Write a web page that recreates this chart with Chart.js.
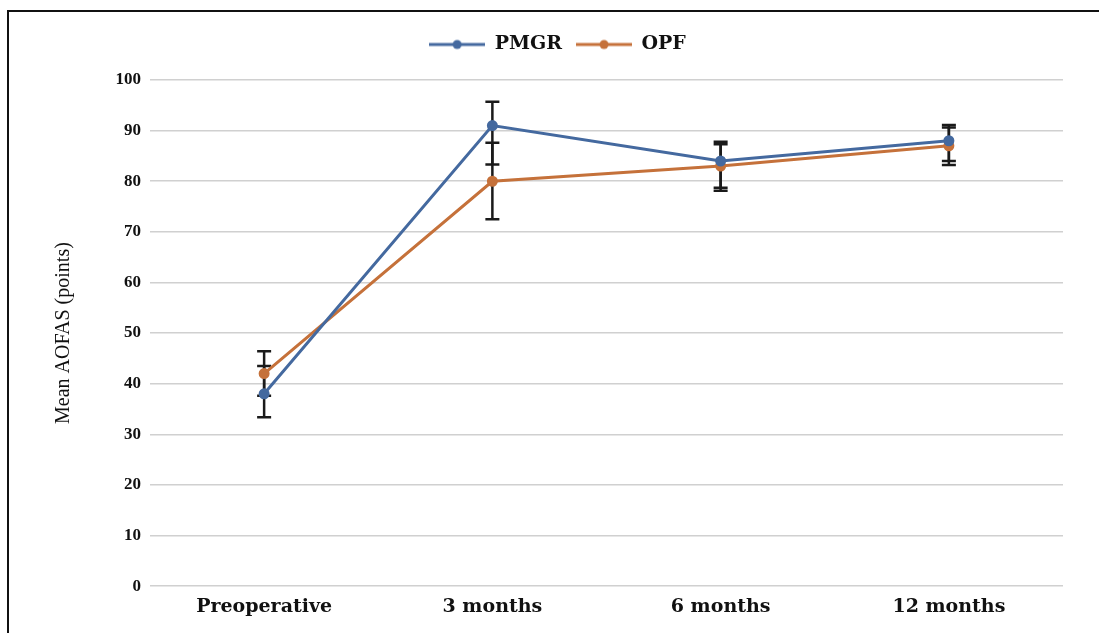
<!DOCTYPE html>
<html>
<head>
<meta charset="utf-8">
<script src="https://cdn.jsdelivr.net/npm/chart.js@4.4.1/dist/chart.umd.min.js"></script>
<style>
  html, body { margin: 0; padding: 0; background: #fff; }
  #wrap { position: relative; width: 1099px; height: 633px; overflow: hidden; }
  #frame { position: absolute; left: 7px; top: 10px; width: 1200px; height: 700px;
           border-left: 2px solid #111; border-top: 2px solid #111; }
  canvas { position: absolute; left: 0; top: 0; }
</style>
</head>
<body>
<div id="wrap">
  <div id="frame"></div>
  <canvas id="aofas-chart" width="1099" height="633"></canvas>
</div>
<script>
// datos
const categories = ['Preoperative', '3 months', '6 months', '12 months'];
const pmgrMeans = [38, 91, 84, 88];
const opfMeans = [42, 80, 83, 87];
// extremos de las barras de error (inferior / superior)
const pmgrLow = [33.4, 83.3, 78.7, 84.0];
const pmgrHigh = [43.5, 95.7, 87.8, 91.1];
const opfLow = [37.6, 72.5, 78.1, 83.2];
const opfHigh = [46.4, 87.6, 87.3, 90.6];
const yTicks = [0, 10, 20, 30, 40, 50, 60, 70, 80, 90, 100];

const BLUE = '#44699f';
const ORANGE = '#c5713a';

function legendIcon(color) {
    const c = document.createElement('canvas');
    c.width = 56;
    c.height = 12;
    const g = c.getContext('2d');
    g.strokeStyle = color;
    g.lineWidth = 3;
    g.beginPath();
    g.moveTo(0, 6);
    g.lineTo(56, 6);
    g.stroke();
    g.fillStyle = color;
    g.beginPath();
    g.arc(28, 6, 4.5, 0, Math.PI * 2);
    g.fill();
    return c;
}

// deja más aire entre la leyenda y el área del gráfico
const legendGap = {
    id: 'legendGap',
    afterInit(chart) {
        const legend = chart.legend;
        if (!legend) return;
        const fit = legend.fit;
        legend.fit = function() {
            fit.call(this);
            this.height += 16;
        };
    }
};

const errorBars = {
    id: 'errorBars',
    beforeDatasetsDraw(chart) {
        const ctx = chart.ctx;
        const x = chart.scales.x;
        const y = chart.scales.y;
        const sets = [[pmgrLow, pmgrHigh], [opfLow, opfHigh]];
        ctx.save();
        ctx.strokeStyle = '#1a1a1a';
        ctx.lineWidth = 2.5;
        sets.forEach(([lo, hi]) => {
            categories.forEach((cat, i) => {
                const px = x.getPixelForValue(i);
                const yl = y.getPixelForValue(lo[i]);
                const yh = y.getPixelForValue(hi[i]);
                ctx.beginPath();
                ctx.moveTo(px, yl);
                ctx.lineTo(px, yh);
                ctx.moveTo(px - 7, yl);
                ctx.lineTo(px + 7, yl);
                ctx.moveTo(px - 7, yh);
                ctx.lineTo(px + 7, yh);
                ctx.stroke();
            });
        });
        ctx.restore();
    }
};

const chartConfig = {
    type: 'line',
    data: {
        labels: categories,
        datasets: [{
            label: 'PMGR',
            data: pmgrMeans,
            borderColor: BLUE,
            backgroundColor: BLUE,
            borderWidth: 3,
            pointRadius: 4,
            pointStyle: 'circle',
            tension: 0
        }, {
            label: 'OPF',
            data: opfMeans,
            borderColor: ORANGE,
            backgroundColor: ORANGE,
            borderWidth: 3,
            pointRadius: 4,
            pointStyle: 'circle',
            tension: 0
        }]
    },
    options: {
        responsive: false,
        animation: false,
        layout: {
            padding: { left: 52, right: 36, top: 21, bottom: 6 }
        },
        plugins: {
            legend: {
                position: 'top',
                labels: {
                    usePointStyle: true,
                    pointStyleWidth: 56,
                    boxHeight: 12,
                    generateLabels(chart) {
                        return chart.data.datasets.map((ds, i) => ({
                            text: ds.label,
                            pointStyle: legendIcon(ds.borderColor),
                            fontColor: '#111',
                            lineWidth: 0,
                            datasetIndex: i
                        }));
                    },
                    color: '#111',
                    padding: 14,
                    font: { family: 'DejaVu Serif', weight: 'bold', size: 19 }
                }
            },
            tooltip: { enabled: false }
        },
        scales: {
            x: {
                offset: true,
                grid: { display: false, drawTicks: false },
                border: { display: false },
                ticks: {
                    color: '#111',
                    padding: 9,
                    maxRotation: 0,
                    font: { family: 'DejaVu Serif', weight: 'bold', size: 19 }
                }
            },
            y: {
                min: 0,
                max: 100,
                afterBuildTicks(scale) {
                    scale.ticks = yTicks.map(v => ({ value: v }));
                },
                afterFit(scale) {
                    scale.width = 98;
                },
                grid: { color: '#d0d0d0', lineWidth: 1.5, drawTicks: false },
                border: { display: false },
                ticks: {
                    color: '#111',
                    padding: 9,
                    font: { family: 'Liberation Serif', weight: 'bold', size: 17 }
                },
                title: {
                    display: true,
                    text: 'Mean AOFAS (points)',
                    color: '#111',
                    padding: 0,
                    font: { family: 'Liberation Serif', size: 20 }
                }
            }
        }
    },
    plugins: [legendGap, errorBars]
};

new Chart(document.getElementById('aofas-chart'), chartConfig);
</script>
</body>
</html>
